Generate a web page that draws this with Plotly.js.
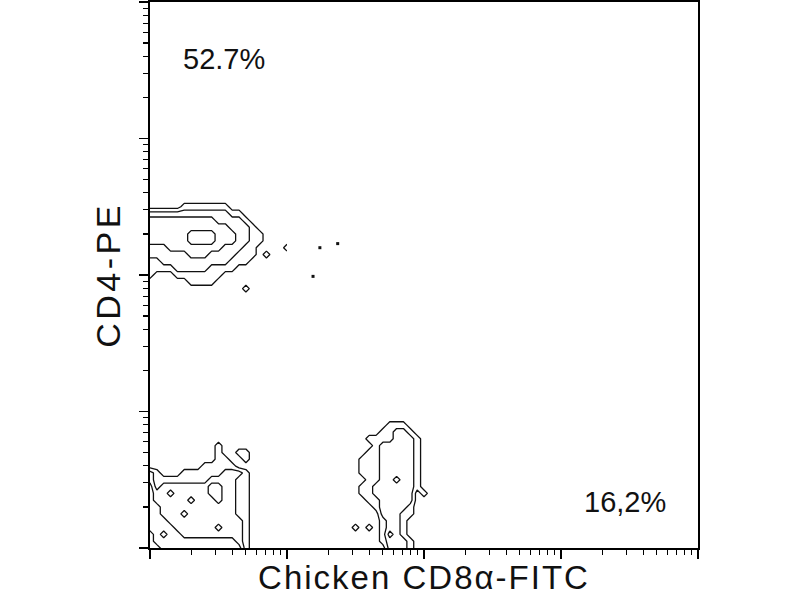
<!DOCTYPE html>
<html>
<head>
<meta charset="utf-8">
<script src="https://cdn.plot.ly/plotly-3.0.1.min.js"></script>
<style>
  html, body { margin: 0; padding: 0; background: #fff; }
  #chart { width: 800px; height: 600px; }
  text.xtitle { letter-spacing: 2px; }
  text.ytitle { letter-spacing: 3.5px; }
</style>
</head>
<body>
<div id="chart"></div>
<script>
// ---- Data: event-density levels on log10 fluorescence grids ----
// Each string is one grid row (top row first); each digit is the density level at that grid node.

// Population 1: CD4+ CD8-
const pop1X = [-0.05, 0, 0.05, 0.1, 0.15, 0.2, 0.25, 0.3, 0.35, 0.4, 0.45, 0.5, 0.55, 0.6, 0.65, 0.7, 0.75, 0.8, 0.85, 0.9, 0.95, 1.0];
const pop1Y = [1.8, 1.85, 1.9, 1.95, 2.0, 2.05, 2.1, 2.15, 2.2, 2.25, 2.3, 2.35, 2.4, 2.45, 2.5, 2.55, 2.6];
const pop1Rows = [
  "0000000000000000000000",
  "0000000000000000000000",
  "0000001111111000000000",
  "2222222222222110000000",
  "3333333333322221000000",
  "3333333333333222100000",
  "3333333444433322110000",
  "3333333444433322110000",
  "2222333333332221100001",
  "2222222333222211101000",
  "1112222222222111000000",
  "1111122222111100000000",
  "1100011111110000000000",
  "0000000111100000000000",
  "0000000000000001000000",
  "0000000000000000000000",
  "0000000000000000000000"
];

// Population 2: CD4- CD8- (bottom left)
const pop2X = [-0.05, 0, 0.05, 0.1, 0.15, 0.2, 0.25, 0.3, 0.35, 0.4, 0.45, 0.5, 0.55, 0.6, 0.65, 0.7, 0.75, 0.8, 0.85];
const pop2Y = [-0.05, 0, 0.05, 0.1, 0.15, 0.2, 0.25, 0.3, 0.35, 0.4, 0.45, 0.5, 0.55, 0.6, 0.65, 0.7, 0.75, 0.8];
const pop2Rows = [
  "0000000000000000000",
  "0000000000010000000",
  "0000000000010011000",
  "0000000000011001000",
  "0000000001111100000",
  "2210001111112221000",
  "2211111111222211000",
  "3312222222332211000",
  "3322322222332211000",
  "3322222322232211000",
  "3332222222222211000",
  "3332223222222211000",
  "3333222222222221000",
  "3333322222232221000",
  "4434332222222221000",
  "4433333333333321000",
  "4443333333333331000",
  "4444433333333332000"
];

// Population 3: CD8+ CD4-
const pop3X = [1.45, 1.5, 1.55, 1.6, 1.65, 1.7, 1.75, 1.8, 1.85, 1.9, 1.95, 2.0, 2.05, 2.1];
const pop3Y = [-0.05, 0, 0.05, 0.1, 0.15, 0.2, 0.25, 0.3, 0.35, 0.4, 0.45, 0.5, 0.55, 0.6, 0.65, 0.7, 0.75, 0.8, 0.85, 0.9, 0.95, 1.0];
const pop3Rows = [
  "00000000000000",
  "00000000000000",
  "00000011100000",
  "00000112210000",
  "00011112221000",
  "00001222221000",
  "00011222221000",
  "00111222221000",
  "00111222221000",
  "00111222221000",
  "00011223221000",
  "00112222221000",
  "00112222220100",
  "00011222220000",
  "00001222210000",
  "00000222110000",
  "00000122100000",
  "01010122100000",
  "00000132100000",
  "00000122210000",
  "00000022210000",
  "00000122210000"
];

// Isolated events (log10 units)
const eventX = [1.24, 1.37, 1.19];
const eventY = [2.2, 2.23, 1.99];

// Quadrant percentages and axis titles
const pctLabels = ["52.7%", "16,2%"];
const xTitle = "Chicken CD8\u03b1-FITC";
const yTitle = "CD4-PE";

// ---- Build ----
const p10 = a => a.map(v => Math.pow(10, v));
const toZ = rows => rows.map(r => r.split('').map(Number)).reverse();
function contourTrace(xs, ys, rows) {
  return {
    type: 'contour', x: p10(xs), y: p10(ys), z: toZ(rows),
    contours: { start: 0.5, end: 4.5, size: 1, coloring: 'none' },
    line: { color: '#111', width: 1.3, smoothing: 0 },
    showscale: false, hoverinfo: 'skip'
  };
}
const traces = [
  contourTrace(pop1X, pop1Y, pop1Rows),
  contourTrace(pop2X, pop2Y, pop2Rows),
  contourTrace(pop3X, pop3Y, pop3Rows),
  {
    type: 'scatter', mode: 'markers', x: p10(eventX), y: p10(eventY),
    marker: { symbol: 'square', size: 3, color: '#111' },
    hoverinfo: 'skip', showlegend: false
  }
];

const font = { family: 'Liberation Sans, Arial, sans-serif', color: '#111' };
function axis(titleText, size, standoff) {
  return {
    type: 'log', range: [0, 4], dtick: 1,
    showline: true, linewidth: 2, linecolor: '#000', mirror: true,
    ticks: 'outside', ticklen: 9, tickwidth: 1.5, tickcolor: '#000',
    showticklabels: false, showgrid: false, zeroline: false,
    minor: { ticks: 'outside', ticklen: 5, tickwidth: 1.2, tickcolor: '#000', dtick: 'D1', showgrid: false },
    title: { text: titleText, font: Object.assign({ size: size }, font), standoff: standoff },
    fixedrange: true
  };
}
const layout = {
  width: 800, height: 600,
  margin: { l: 150, r: 102, t: 2, b: 52 },
  paper_bgcolor: '#fff', plot_bgcolor: '#fff',
  showlegend: false,
  font: font,
  xaxis: axis(xTitle, 33, 8),
  yaxis: axis(yTitle, 34, 8),
  annotations: [
    { text: pctLabels[0], xref: 'paper', yref: 'paper', x: 0.135, y: 0.895,
      xanchor: 'center', yanchor: 'middle', showarrow: false, font: Object.assign({ size: 29 }, font) },
    { text: pctLabels[1], xref: 'paper', yref: 'paper', x: 0.867, y: 0.085,
      xanchor: 'center', yanchor: 'middle', showarrow: false, font: Object.assign({ size: 29 }, font) }
  ]
};
Plotly.newPlot('chart', traces, layout, { staticPlot: true, displayModeBar: false });
</script>
</body>
</html>
